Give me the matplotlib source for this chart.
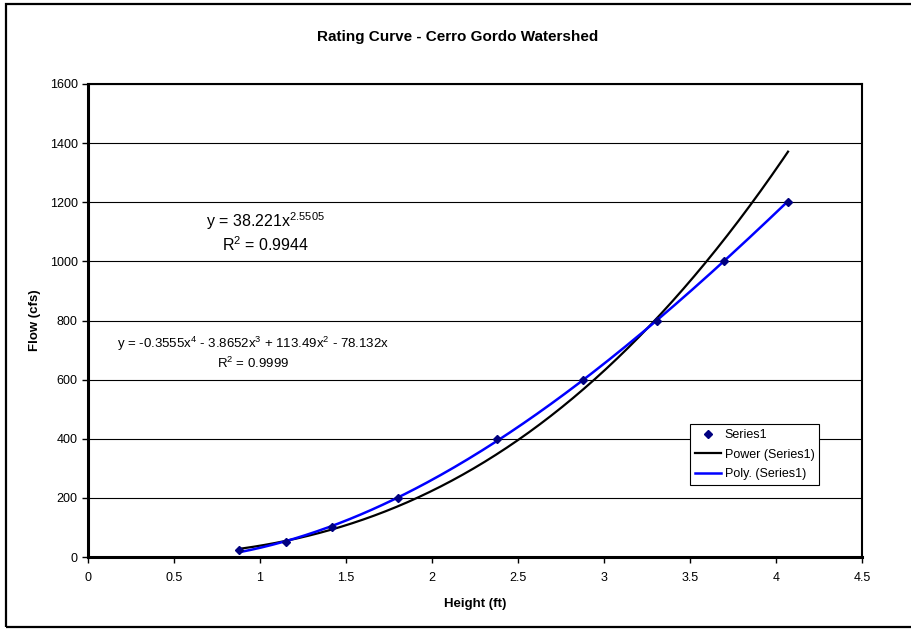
import matplotlib
matplotlib.use('Agg')
import matplotlib.pyplot as plt
from matplotlib.patches import Rectangle
import numpy as np

plt.rcParams['font.family'] = ['Liberation Sans', 'DejaVu Sans']

# Measured stage / discharge pairs
height_ft = [0.88, 1.15, 1.42, 1.80, 2.38, 2.88, 3.31, 3.70, 4.07]
flow_cfs = [25, 50, 100, 200, 400, 600, 800, 1000, 1200]

# Fitted trendline coefficients
power_coef = 38.221
power_exp = 2.5505
power_r2 = 0.9944
poly_coefs = [-0.3555, -3.8652, 113.49, -78.132, 0.0]   # x^4 .. x^0
poly_r2 = 0.9999

x_ticks = [0, 0.5, 1, 1.5, 2, 2.5, 3, 3.5, 4, 4.5]
y_ticks = [0, 200, 400, 600, 800, 1000, 1200, 1400, 1600]

fig = plt.figure(figsize=(9.12, 6.29), dpi=100)
fig.patch.set_facecolor('white')

# chart border
fig.patches.append(Rectangle((6 / 912, 2 / 629), 1.2, 623 / 629,
                             transform=fig.transFigure, fill=False,
                             edgecolor='black', linewidth=1.6))

ax = fig.add_axes([88 / 912, 1 - 557 / 629, 774 / 912, 473 / 629])

xs = np.linspace(min(height_ft), max(height_ft), 200)
power_y = power_coef * xs ** power_exp
poly_y = np.polyval(poly_coefs, xs)

ax.plot(height_ft, flow_cfs, linestyle='none', marker='D', markersize=4.5,
        color='#000080', label='Series1', zorder=4)
ax.plot(xs, power_y, color='black', linewidth=1.6, label='Power (Series1)', zorder=3)
ax.plot(xs, poly_y, color='#0000FF', linewidth=1.8, label='Poly. (Series1)', zorder=3)

ax.set_xlim(0, 4.5)
ax.set_ylim(0, 1600)
ax.set_xticks(x_ticks)
ax.set_xticklabels([f'{t:g}' for t in x_ticks])
ax.set_yticks(y_ticks)
ax.tick_params(direction='out', length=4, width=1, labelsize=9)
ax.tick_params(axis='x', pad=7)
ax.yaxis.grid(True, color='black', linewidth=0.8)
ax.set_axisbelow(True)

for side in ['left', 'bottom']:
    ax.spines[side].set_linewidth(2.2)
for side in ['top', 'right']:
    ax.spines[side].set_linewidth(1.5)

ax.set_xlabel('Height (ft)', fontsize=9.5, fontweight='bold', labelpad=10)
ax.set_ylabel('Flow (cfs)', fontsize=9.5, fontweight='bold', labelpad=6)
fig.text(458 / 912, 1 - 37 / 629, 'Rating Curve - Cerro Gordo Watershed',
         fontsize=11, fontweight='bold', ha='center', va='center')

# trendline equations
ax.text(1.03, 1135, f'y = {power_coef}x$\\mathregular{{^{{{power_exp}}}}}$',
        fontsize=11.5, ha='center', va='center')
ax.text(1.03, 1057, f'R$\\mathregular{{^2}}$ = {power_r2}',
        fontsize=11.5, ha='center', va='center')
ax.text(0.96, 720,
        'y = -0.3555x$\\mathregular{^4}$ - 3.8652x$\\mathregular{^3}$ + '
        '113.49x$\\mathregular{^2}$ - 78.132x',
        fontsize=9.5, ha='center', va='center')
ax.text(0.96, 656, f'R$\\mathregular{{^2}}$ = {poly_r2}',
        fontsize=9.5, ha='center', va='center')

leg = ax.legend(loc='upper left', bbox_to_anchor=(0.778, 0.281), borderaxespad=0,
                fontsize=9, fancybox=False, framealpha=1, edgecolor='black',
                handlelength=2.1, handletextpad=0.25, borderpad=0.4,
                labelspacing=0.6)
leg.get_frame().set_linewidth(0.8)

fig.savefig('out.png', dpi=100)
